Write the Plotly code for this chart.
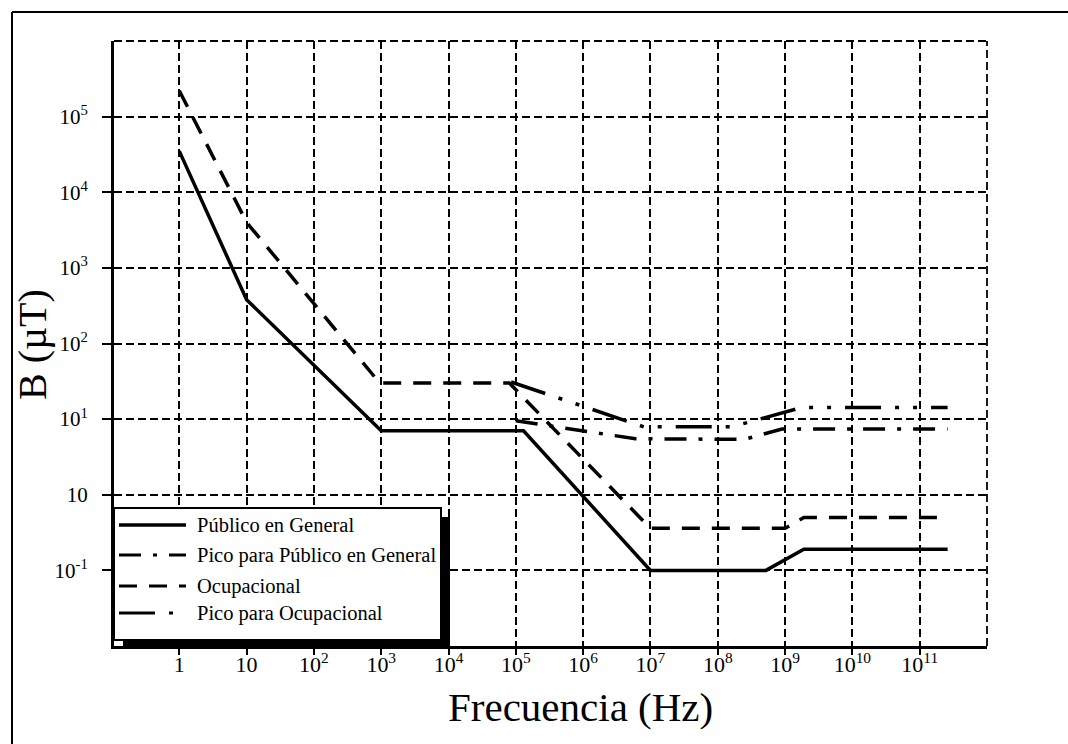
import plotly.graph_objects as go

# Reference levels for magnetic flux density B (µT) versus frequency (Hz)
freq_publico = [1, 10, 1000, 1.3e5, 1e7, 5.2e8, 1.9e9, 2.6e11]
b_publico = [3.5e4, 380, 7, 7, 0.1, 0.1, 0.19, 0.19]

freq_pico_publico = [1e5, 6e6, 2.5e8, 9e8, 2.6e11]
b_pico_publico = [9.5, 5.5, 5.4, 7.4, 7.4]

freq_ocupacional = [1, 10, 950, 8e4, 1e7, 1e9, 1.9e9, 2.6e11]
b_ocupacional = [2.2e5, 4000, 30, 30, 0.36, 0.36, 0.5, 0.5]

freq_pico_ocupacional = [8.5e4, 8e6, 1.6e8, 1.8e9, 2.6e11]
b_pico_ocupacional = [31, 7.9, 7.9, 14.3, 14.3]

series_names = ["Público en General", "Pico para Público en General",
                "Ocupacional", "Pico para Ocupacional"]

x_tickvals = [10 ** k for k in range(0, 12)]
x_ticktext = ["1", "10"] + [f"10<sup>{k}</sup>" for k in range(2, 12)]
y_tickvals = [10 ** k for k in range(-1, 6)]
y_ticktext = ["10<sup>-1</sup>", "10"] + [f"10<sup>{k}</sup>" for k in range(1, 6)]

SERIF = "Liberation Serif, Times New Roman, serif"

# line styles: (dash pattern, width)
styles = [
    ("solid", 3.5),
    ("22px,12px,4px,12px", 3.5),
    ("18px,12px", 3.5),
    ("36px,14px,4px,14px,4px,14px", 3.5),
]

fig = go.Figure()
data = [
    (freq_publico, b_publico),
    (freq_pico_publico, b_pico_publico),
    (freq_ocupacional, b_ocupacional),
    (freq_pico_ocupacional, b_pico_ocupacional),
]
for (fx, fy), name, (dash, w) in zip(data, series_names, styles):
    fig.add_trace(go.Scatter(
        x=fx, y=fy, mode="lines", name=name, showlegend=False,
        line=dict(color="black", width=w, dash=dash),
    ))

# plot-area geometry in pixels
W, H = 1068, 744
L, R, T, B = 114, 987, 41, 646


def px(x):
    return (x - L) / (R - L)


def py(y):
    return (B - y) / (B - T)


GRID_DASH = "8px,4px"
shapes = []
# outer frame (top and left edges)
shapes.append(dict(type="line", xref="paper", yref="paper",
                   x0=px(12), x1=px(W + 5), y0=py(12), y1=py(12),
                   line=dict(color="black", width=2)))
shapes.append(dict(type="line", xref="paper", yref="paper",
                   x0=px(12), x1=px(12), y0=py(12), y1=py(H + 5),
                   line=dict(color="black", width=2)))
# dashed top and right borders of the plot area
shapes.append(dict(type="line", xref="paper", yref="paper",
                   x0=0, x1=1, y0=1, y1=1, layer="below",
                   line=dict(color="black", width=1.8, dash=GRID_DASH)))
shapes.append(dict(type="line", xref="paper", yref="paper",
                   x0=1, x1=1, y0=0, y1=1, layer="below",
                   line=dict(color="black", width=1.8, dash=GRID_DASH)))

# legend box with drop shadow
lg_l, lg_t, lg_r, lg_b = 114, 508, 441, 640
shadow = 9
shapes.append(dict(type="rect", xref="paper", yref="paper", layer="above",
                   x0=px(lg_l + shadow), x1=px(lg_r + shadow),
                   y0=py(lg_t + shadow), y1=py(lg_b + shadow),
                   fillcolor="black", line=dict(color="black", width=0)))
shapes.append(dict(type="rect", xref="paper", yref="paper", layer="above",
                   x0=px(lg_l), x1=px(lg_r), y0=py(lg_t), y1=py(lg_b),
                   fillcolor="white", line=dict(color="black", width=2)))

row_y = [525, 555, 586, 613]
sample_x0, sample_x1 = 119, 186
annotations = []
for yy, name, (dash, w) in zip(row_y, series_names, styles):
    shapes.append(dict(type="line", xref="paper", yref="paper", layer="above",
                       x0=px(sample_x0), x1=px(sample_x1), y0=py(yy), y1=py(yy),
                       line=dict(color="black", width=w if dash == "solid" else 3,
                                 dash=dash)))
    annotations.append(dict(xref="paper", yref="paper", x=px(195), y=py(yy),
                            xanchor="left", yanchor="middle", showarrow=False,
                            text=name, font=dict(family=SERIF, size=20.5, color="black")))

# axis titles
annotations.append(dict(xref="paper", yref="paper", x=px(580), y=py(707),
                        xanchor="center", yanchor="middle", showarrow=False,
                        text="Frecuencia (Hz)",
                        font=dict(family=SERIF, size=41, color="black")))
annotations.append(dict(xref="paper", yref="paper", x=px(33), y=py(345),
                        xanchor="center", yanchor="middle", showarrow=False,
                        textangle=-90, text="B (µT)",
                        font=dict(family=SERIF, size=40, color="black")))

axis_common = dict(
    showgrid=True, gridcolor="black", gridwidth=1.8, griddash=GRID_DASH,
    showline=True, linecolor="black", linewidth=3,
    ticks="outside", tickcolor="black", tickwidth=1.5,
    zeroline=False,
)

fig.update_layout(
    width=W, height=H,
    margin=dict(l=L, r=W - R, t=T, b=H - B, pad=0),
    paper_bgcolor="white", plot_bgcolor="white",
    showlegend=False,
    shapes=shapes, annotations=annotations,
    xaxis=dict(type="log", range=[-0.97, 12.0], tickvals=x_tickvals,
               ticktext=x_ticktext, ticklen=6, ticklabelstandoff=-9,
               tickfont=dict(family=SERIF, size=22, color="black"),
               **axis_common),
    yaxis=dict(type="log", range=[-2, 6], tickvals=y_tickvals,
               ticktext=y_ticktext, ticklen=9, ticklabelstandoff=10,
               tickfont=dict(family=SERIF, size=21, color="black"),
               **axis_common),
)

fig.write_html("out.html")
